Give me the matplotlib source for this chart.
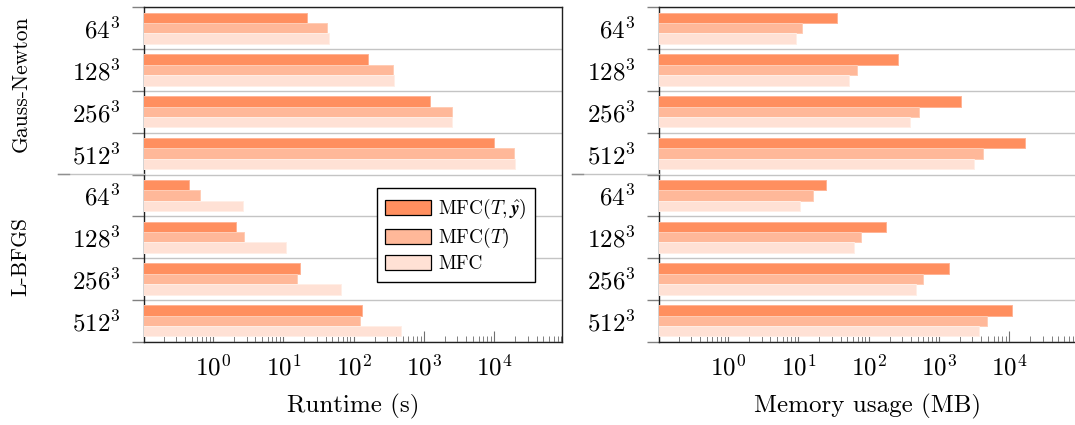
import matplotlib
matplotlib.use("Agg")
import matplotlib.pyplot as plt
import numpy as np
from matplotlib.lines import Line2D
from matplotlib.ticker import LogLocator, FixedLocator, NullFormatter, FixedFormatter

plt.rcParams['font.family'] = 'serif'
plt.rcParams['font.serif'] = ['cmr10']
plt.rcParams['mathtext.fontset'] = 'cm'
plt.rcParams['axes.formatter.use_mathtext'] = True

# ---- data ----
sizes = [r"$64^3$", r"$128^3$", r"$256^3$", r"$512^3$"]
methods = ["Gauss-Newton", "L-BFGS"]
series_labels = [r"MFC$(T,\hat{\mathbfit{y}})$", r"MFC$(T)$", "MFC"]

# Runtime (s): Gauss-Newton then L-BFGS, sizes 64..512
runtime_mfc_ty = [21.5, 162, 1220, 9840, 0.46, 2.1, 17.5, 130]
runtime_mfc_t = [42, 363, 2480, 18900, 0.66, 2.73, 15.5, 122]
runtime_mfc = [44, 376, 2540, 19600, 2.67, 10.9, 65.5, 468]

# Memory usage (MB)
memory_mfc_ty = [35, 265, 2080, 16600, 24.5, 175, 1380, 11100]
memory_mfc_t = [11.2, 69, 527, 4200, 16.4, 77, 600, 4780]
memory_mfc = [9.3, 52.6, 392, 3125, 10.6, 62, 472, 3720]

colors = ["#FF8F5F", "#FFB899", "#FFE1D5"]
edgecolors = ["#FFB496", "#FFCDB6", "#FFEEE6"]

# check that the bold-italic math command is available
try:
    from matplotlib.mathtext import MathTextParser
    MathTextParser("agg").parse(series_labels[0], dpi=100)
except Exception:
    series_labels[0] = r"MFC$(T,\hat{\mathbf{y}})$"

W, H = 1075, 425
fig = plt.figure(figsize=(W / 100, H / 100), dpi=100)

def fx(px):
    return px / W

def fy(py):
    return 1 - py / H

ax_bottom = fy(341.7)
ax_height = fy(7.3) - ax_bottom
ax_width = fx(562 - 144)
ax1 = fig.add_axes([fx(144), ax_bottom, ax_width, ax_height])
ax2 = fig.add_axes([fx(659), ax_bottom, ax_width, ax_height])

xlim = (10 ** ((144 - 213) / 70.3), 10 ** ((562 - 213) / 70.3))
base = 1e-3
n_groups = len(methods) * len(sizes)
ylabels = sizes * len(methods)
bar_h = 0.25
FS = 18

def draw(ax, series, xlabel):
    ax.set_xscale('log')
    centers = np.arange(n_groups) + 0.5
    handles = []
    for k, (vals, c, ec) in enumerate(zip(series, colors, edgecolors)):
        y = centers + (k - 1) * bar_h
        v = np.array(vals, dtype=float)
        h = ax.barh(y, v - base, left=base, height=bar_h, color=c,
                    edgecolor=ec, linewidth=0.7, zorder=3, label=series_labels[k])
        handles.append(h)
    ax.set_xlim(*xlim)
    ax.set_ylim(n_groups, 0)
    # y ticks
    ax.yaxis.set_major_locator(FixedLocator(np.arange(n_groups + 1)))
    ax.yaxis.set_major_formatter(NullFormatter())
    ax.yaxis.set_minor_locator(FixedLocator(centers))
    ax.yaxis.set_minor_formatter(FixedFormatter(ylabels))
    ax.tick_params(axis='y', which='major', direction='out', length=8.6,
                   width=1.0, color='#808080')
    ax.tick_params(axis='y', which='minor', length=0, pad=17, labelsize=FS)
    ax.grid(axis='y', which='major', color='#c4c4c4', linewidth=1.0, zorder=0)
    # x ticks
    ax.xaxis.set_major_locator(LogLocator(base=10, numticks=20))
    ax.xaxis.set_minor_locator(LogLocator(base=10, subs=np.arange(2, 10), numticks=20))
    ax.xaxis.set_minor_formatter(NullFormatter())
    ax.tick_params(axis='x', which='major', direction='in', length=7.9, width=0.8,
                   color='#707070', labelsize=FS, pad=9, top=False)
    ax.tick_params(axis='x', which='minor', direction='in', length=4.3, width=0.7,
                   color='#808080', top=False)
    ax.set_xlabel(xlabel, fontsize=FS, labelpad=10)
    for s in ax.spines.values():
        s.set_color('#202020')
        s.set_linewidth(1.0)
    ax.set_axisbelow(True)
    return handles

handles = draw(ax1, [runtime_mfc_ty, runtime_mfc_t, runtime_mfc], "Runtime (s)")
draw(ax2, [memory_mfc_ty, memory_mfc_t, memory_mfc], "Memory usage (MB)")

# group separators extending left
for x0, x1 in [(58, 144), (572, 659)]:
    fig.add_artist(Line2D([fx(x0), fx(x1)], [fy(174), fy(174)], color='#c4c4c4',
                          linewidth=1.0, transform=fig.transFigure))
    fig.add_artist(Line2D([fx(x0), fx(x0 + 11)], [fy(174), fy(174)], color='#909090',
                          linewidth=1.0, transform=fig.transFigure))

# method labels
fig.text(fx(21), fy(84), methods[0], rotation=90, ha='center', va='center', fontsize=15.5)
fig.text(fx(21), fy(257), methods[1], rotation=90, ha='center', va='center', fontsize=15.5)

leg = ax1.legend(handles=handles, loc='upper left',
                 bbox_to_anchor=(fx(376.7), fy(188.3)), bbox_transform=fig.transFigure,
                 fontsize=14, handlelength=2.35, handleheight=0.78, handletextpad=0.35,
                 labelspacing=0.25, borderpad=0.45, borderaxespad=0,
                 fancybox=False, framealpha=1, edgecolor='black')
leg.get_frame().set_linewidth(1.0)
for p in leg.get_patches():
    p.set_edgecolor('black')
    p.set_linewidth(0.9)

fig.savefig("out.png", dpi=100)
